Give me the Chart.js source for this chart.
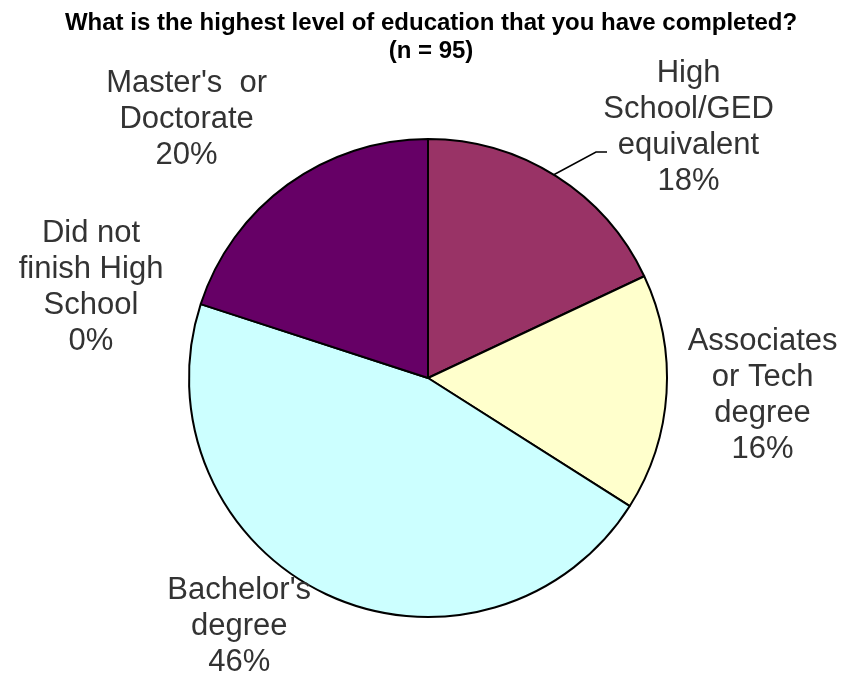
<!DOCTYPE html>
<html>
<head>
<meta charset="utf-8">
<script src="https://cdn.jsdelivr.net/npm/chart.js@4/dist/chart.umd.min.js"></script>
<style>
  html, body { margin: 0; padding: 0; background: #fff; }
  #wrap { width: 844px; height: 676px; }
</style>
</head>
<body>
<div id="wrap"><canvas id="chart"></canvas></div>
<script>
// data
const categories = [
    ['High', 'School/GED', 'equivalent'],
    ['Associates', 'or Tech', 'degree'],
    ["Bachelor's", 'degree'],
    ['Did not', 'finish High', 'School'],
    ["Master's  or", 'Doctorate']
];
const percents = [18, 16, 46, 0, 20];
const sliceColors = ['#993366', '#FFFFCC', '#CCFFFF', '#000080', '#660066'];
const titleLines = ['What is the highest level of education that you have completed?', '(n = 95)'];

// where each label sits, in units of the pie radius from its centre
const labelSpots = [[1.09, -1.05], [1.40, 0.075], [-0.79, 1.04], [-1.41, -0.38], [-1.01, -1.08]];

// title + outside labels
const labelPlugin = {
    id: 'labels',
    afterDraw(chart) {
        const ctx = chart.ctx;
        const arc0 = chart.getDatasetMeta(0).data[0];
        const cx = arc0.x, cy = arc0.y, r = arc0.outerRadius;

        ctx.save();
        ctx.textAlign = 'center';
        ctx.textBaseline = 'middle';
        ctx.fillStyle = '#000';
        ctx.font = 'bold 24px "Liberation Sans", Arial, sans-serif';
        titleLines.forEach((t, i) => ctx.fillText(t, 431, 23 + i * 28));

        // leader line for the first slice
        const a = arc0.startAngle + (arc0.endAngle - arc0.startAngle) * 0.49;
        const ex = cx + Math.cos(a) * r, ey = cy + Math.sin(a) * r;
        ctx.strokeStyle = '#000';
        ctx.lineWidth = 1.5;
        ctx.beginPath();
        ctx.moveTo(ex, ey);
        ctx.lineTo(596, 152);
        ctx.lineTo(607, 152);
        ctx.stroke();

        ctx.fillStyle = '#333';
        ctx.font = '31px "Liberation Sans", Arial, sans-serif';
        const lh = 36;
        categories.forEach((lines, i) => {
            const all = lines.concat([percents[i] + '%']);
            const x = cx + labelSpots[i][0] * r;
            const y = cy + labelSpots[i][1] * r;
            const top = y - (all.length - 1) * lh / 2;
            all.forEach((t, j) => ctx.fillText(t, x, top + j * lh));
        });
        ctx.restore();
    }
};

new Chart(document.getElementById('chart'), {
    type: 'pie',
    data: {
        labels: categories.map(c => c.join(' ')),
        datasets: [{
            data: percents,
            backgroundColor: sliceColors,
            borderColor: '#000',
            borderWidth: 2
        }]
    },
    options: {
        responsive: true,
        maintainAspectRatio: false,
        animation: false,
        layout: { padding: { top: 138, bottom: 58, left: 188, right: 176 } },
        plugins: {
            legend: { display: false },
            tooltip: { enabled: false }
        }
    },
    plugins: [labelPlugin]
});
</script>
</body>
</html>
